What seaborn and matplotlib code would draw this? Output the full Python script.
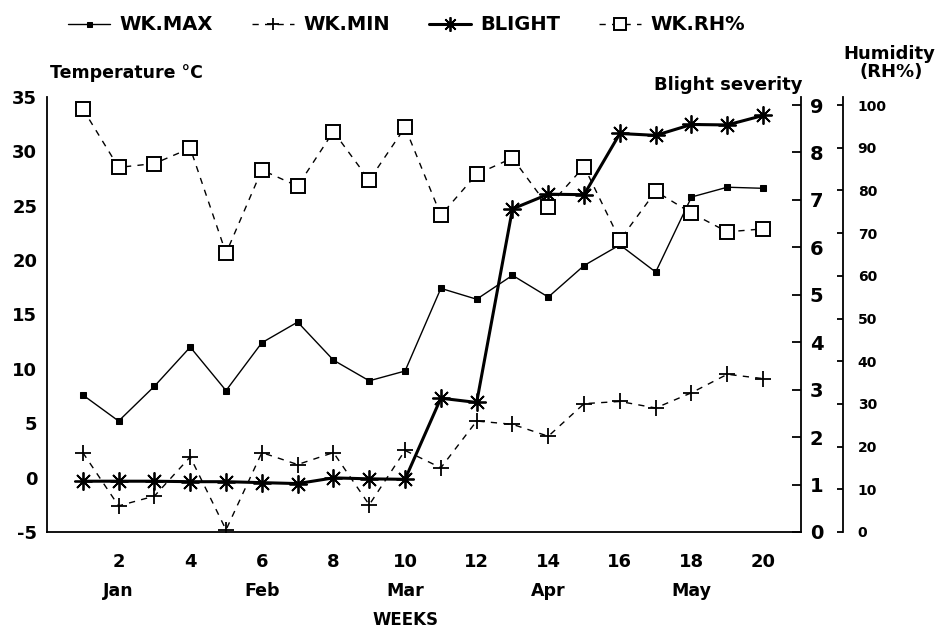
import numpy as np
import pandas as pd
import matplotlib
matplotlib.use("Agg")
import matplotlib.pyplot as plt
import seaborn as sns

# dados (semanas 1-20)
weeks = list(range(1, 21))
wk_max = [7.6, 5.2, 8.4, 12.0, 8.0, 12.4, 14.3, 10.8, 8.9, 9.8,
          17.4, 16.4, 18.6, 16.6, 19.5, 21.4, 18.9, 25.8, 26.7, 26.6]
wk_min = [2.3, -2.6, -1.7, 1.9, -4.8, 2.3, 1.2, 2.3, -2.5, 2.5,
          0.9, 5.2, 4.9, 3.8, 6.8, 7.0, 6.4, 7.8, 9.5, 9.1]
blight = [1.07, 1.07, 1.07, 1.06, 1.06, 1.04, 1.02, 1.14, 1.12, 1.11,
          2.82, 2.73, 6.81, 7.12, 7.11, 8.40, 8.36, 8.59, 8.58, 8.78]
wk_rh = [99.1, 85.4, 86.3, 89.9, 65.3, 84.8, 81.0, 93.8, 82.4, 94.8,
         74.2, 83.8, 87.6, 76.2, 85.6, 68.4, 79.8, 74.7, 70.3, 71.0]
month_weeks = [2, 6, 10, 14, 18]
month_names = ['Jan', 'Feb', 'Mar', 'Apr', 'May']

df = pd.DataFrame({'week': weeks, 'max': wk_max, 'min': wk_min,
                   'blight': blight, 'rh': wk_rh})

sns.set_style("white")
plt.rcParams['font.family'] = ['DejaVu Sans']
plt.rcParams['font.weight'] = 'bold'
plt.rcParams['axes.unicode_minus'] = False
for k in ['text.color', 'axes.labelcolor', 'xtick.color', 'ytick.color', 'axes.edgecolor']:
    plt.rcParams[k] = 'black'

fig = plt.figure(figsize=(9.42, 6.3), dpi=100)
ax = fig.add_axes([0.0499, 0.1556, 0.8001, 0.6905])
ax_b = ax.twinx()
ax_h = ax.twinx()
ax_h.spines['right'].set_position(('outward', 30.5))

dash = (0, (4.5, 4.5))
sns.lineplot(data=df, x='week', y='max', ax=ax, color='black', lw=1.0,
             marker='s', ms=4.5, mec='black', mfc='black', legend=False)
sns.lineplot(data=df, x='week', y='min', ax=ax, color='black', lw=1.0,
             linestyle=dash, marker='+', ms=11, mew=1.3, mec='black', legend=False)
sns.lineplot(data=df, x='week', y='blight', ax=ax_b, color='black', lw=2.2,
             marker=(8, 2, 0), ms=13, mew=1.3, mec='black', legend=False)
sns.lineplot(data=df, x='week', y='rh', ax=ax_h, color='black', lw=1.0,
             linestyle=dash, marker='s', ms=10, mfc='white', mec='black', mew=1.4,
             legend=False)

ax.set_xlim(0, 21.05)
ax.set_ylim(-5, 35)
ax_b.set_ylim(0, 9.17)
ax_h.set_ylim(0, 101.9)

ax.set_xticks(range(2, 21, 2))
ax.set_yticks(range(-5, 36, 5))
ax_b.set_yticks(range(0, 10))
ax_h.set_yticks(range(0, 101, 10))
for a in [ax, ax_b, ax_h]:
    a.set_xlabel('')
    a.set_ylabel('')

for s in ['top', 'right']:
    ax.spines[s].set_visible(False)
for a in [ax_b, ax_h]:
    for s in ['top', 'left', 'bottom']:
        a.spines[s].set_visible(False)
for a in [ax, ax_b, ax_h]:
    for s in a.spines.values():
        s.set_linewidth(1.3)
        s.set_color('black')

ax.tick_params(axis='x', direction='in', length=7, width=1.3, pad=15, labelsize=13, colors='black')
ax.tick_params(axis='y', length=0, pad=7, labelsize=13, colors='black')
ax_b.yaxis.set_tick_params(direction='in', length=6.5, width=1.3, pad=6.5, labelsize=14, colors='black')
ax_h.yaxis.set_tick_params(direction='in', length=4.5, width=1.3, pad=10.5, labelsize=10, colors='black')

for w, m in zip(month_weeks, month_names):
    ax.text(w, -0.136, m, transform=ax.get_xaxis_transform(), ha='center', va='center',
            fontsize=12.5, fontweight='bold')
ax.text(10, -0.202, 'WEEKS', transform=ax.get_xaxis_transform(), ha='center', va='center',
        fontsize=12, fontweight='bold')

fig.text(50 / 942, 1 - 73 / 630, 'Temperature \u00b0C', ha='left', va='center',
         fontsize=12.5, fontweight='bold')
fig.text(802 / 942, 1 - 85 / 630, 'Blight severity', ha='right', va='center',
         fontsize=13, fontweight='bold')
fig.text(889 / 942, 1 - 54 / 630, 'Humidity', ha='center', va='center',
         fontsize=13, fontweight='bold')
fig.text(891 / 942, 1 - 72 / 630, '(RH%)', ha='center', va='center',
         fontsize=13, fontweight='bold')

handles = [ax.lines[0], ax.lines[1], ax_b.lines[0], ax_h.lines[0]]
labels = ['WK.MAX', 'WK.MIN', 'BLIGHT', 'WK.RH%']
fig.legend(handles, labels, loc='center left', bbox_to_anchor=(68 / 942, 1 - 25 / 630),
           ncol=4, frameon=False, fontsize=14, handlelength=2.15, columnspacing=2.0,
           handletextpad=0.5, borderpad=0, borderaxespad=0, markerscale=0.8)

fig.savefig('out.png', dpi=100)
